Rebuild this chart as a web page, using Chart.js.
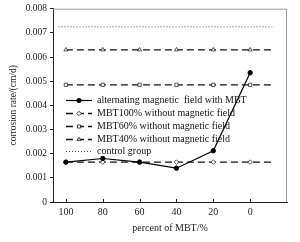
<!DOCTYPE html>
<html>
<head>
<meta charset="utf-8">
<script src="https://cdn.jsdelivr.net/npm/chart.js@4"></script>
<style>
  html, body { margin: 0; padding: 0; background: #fff; }
  #wrap { width: 300px; height: 242px; }
</style>
</head>
<body>
<div id="wrap"><canvas id="corr"></canvas></div>
<script>
// percent of MBT (x), reversed axis
const percent = [100, 80, 60, 40, 20, 0];
const lineEnd = -12;      // dashed reference lines run a little past 0
const controlStart = 104; // dotted control line starts just left of 100

const alternating = [0.00165, 0.0018, 0.00165, 0.0014, 0.00212, 0.00535];
const mbt100 = [0.00165, 0.00165, 0.00165, 0.00165, 0.00165, 0.00165, 0.00165];
const mbt60 = [0.00485, 0.00485, 0.00485, 0.00485, 0.00485, 0.00485, 0.00485];
const mbt40 = [0.0063, 0.0063, 0.0063, 0.0063, 0.0063, 0.0063, 0.0063];
const control = [0.00725, 0.00725];

const yTicks = [0, 0.001, 0.002, 0.003, 0.004, 0.005, 0.006, 0.007, 0.008];

const labels = [
  'alternating magnetic  field with MBT',
  'MBT100% without magnetic field',
  'MBT60% without magnetic field',
  'MBT40% without magnetic field',
  'control group'
];

const serif = '"Liberation Serif", "DejaVu Serif", serif';
const ink = '#222';

const xs = percent.concat([lineEnd]);
const pts = (x, y) => x.map((v, i) => ({x: v, y: y[i]}));
const markR = [2.3, 2.3, 2.3, 2.3, 2.3, 2.3, 0];

const datasets = [{
  label: labels[0],
  data: pts(percent, alternating),
  borderColor: '#000', backgroundColor: '#000', borderWidth: 1.2,
  pointStyle: 'circle', pointRadius: 2.2, pointBorderWidth: 1
}, {
  label: labels[1],
  data: pts(xs, mbt100),
  borderColor: '#111', backgroundColor: '#fff', borderWidth: 1.3, borderDash: [7, 4],
  pointStyle: 'rectRot', pointRadius: markR, pointBorderWidth: 0.7
}, {
  label: labels[2],
  data: pts(xs, mbt60),
  borderColor: '#111', backgroundColor: '#fff', borderWidth: 1.3, borderDash: [7, 4],
  pointStyle: 'rect', pointRadius: markR, pointBorderWidth: 0.7
}, {
  label: labels[3],
  data: pts(xs, mbt40),
  borderColor: '#111', backgroundColor: '#fff', borderWidth: 1.3, borderDash: [7, 4],
  pointStyle: 'triangle', pointRadius: markR, pointBorderWidth: 0.7
}, {
  label: labels[4],
  data: pts([controlStart, lineEnd], control),
  borderColor: '#333', borderWidth: 0.9, borderDash: [1, 2],
  pointRadius: 0
}];

// legend drawn inside the plot, plus frame and inward x ticks
const extras = {
  id: 'extras',
  afterDraw(chart) {
    const c = chart.ctx, a = chart.chartArea;
    c.save();
    c.strokeStyle = '#999';
    c.lineWidth = 1;
    c.beginPath();
    c.moveTo(a.left, a.top + 0.5); c.lineTo(a.right - 0.5, a.top + 0.5); c.lineTo(a.right - 0.5, a.bottom);
    c.stroke();
    const sx = chart.scales.x;
    c.strokeStyle = ink;
    percent.forEach(p => {
      const px = Math.round(sx.getPixelForValue(p)) + 0.5;
      c.beginPath(); c.moveTo(px, a.bottom); c.lineTo(px, a.bottom - 3); c.stroke();
    });

    const x0 = 66, x1 = 92, tx = 97;
    const rows = [100, 113, 126, 139, 151];
    c.font = '10px ' + serif;
    c.textBaseline = 'middle';
    chart.data.datasets.forEach((ds, i) => {
      const y = rows[i] + 0.5;
      c.strokeStyle = ds.borderColor;
      c.lineWidth = ds.borderWidth;
      c.setLineDash(ds.borderDash || []);
      c.beginPath(); c.moveTo(x0, y); c.lineTo(x1, y); c.stroke();
      c.setLineDash([]);
      if (ds.pointStyle) {
        c.lineWidth = 0.8;
        c.fillStyle = ds.backgroundColor;
        Chart.helpers.drawPoint(c, {pointStyle: ds.pointStyle, radius: 2.2, borderWidth: 0.8}, (x0 + x1) / 2, y);
      }
      c.fillStyle = '#111';
      c.fillText(ds.label, tx, y);
    });
    c.restore();
  }
};

new Chart(document.getElementById('corr'), {
  type: 'line',
  data: {datasets},
  options: {
    responsive: true,
    maintainAspectRatio: false,
    animation: false,
    layout: {padding: {top: 8, right: 13, left: 0, bottom: 0}},
    plugins: {legend: {display: false}, tooltip: {enabled: false}},
    scales: {
      x: {
        type: 'linear', reverse: true, min: -20, max: 107,
        afterBuildTicks: s => { s.ticks = percent.map(v => ({value: v})); },
        afterFit: s => { s.height = 40; },
        grid: {display: false, drawTicks: false},
        border: {color: ink, width: 1},
        ticks: {font: {family: serif, size: 10}, color: ink, padding: 4, maxRotation: 0},
        title: {display: true, text: 'percent of MBT/%', font: {family: serif, size: 10}, color: ink, padding: {top: 4, bottom: 8}}
      },
      y: {
        min: 0, max: 0.008,
        afterBuildTicks: s => { s.ticks = yTicks.map(v => ({value: v})); },
        afterFit: s => { s.width = 53; },
        grid: {drawOnChartArea: false, drawTicks: true, tickLength: 3, color: ink},
        border: {color: ink, width: 1},
        ticks: {font: {family: serif, size: 9.5}, color: ink, padding: 3, callback: v => String(+v.toFixed(3))},
        title: {display: true, text: 'corrosion rate/(cm/d)', font: {family: serif, size: 9.5}, color: ink, padding: {top: 8, bottom: 0}}
      }
    }
  },
  plugins: [extras]
});
</script>
</body>
</html>
